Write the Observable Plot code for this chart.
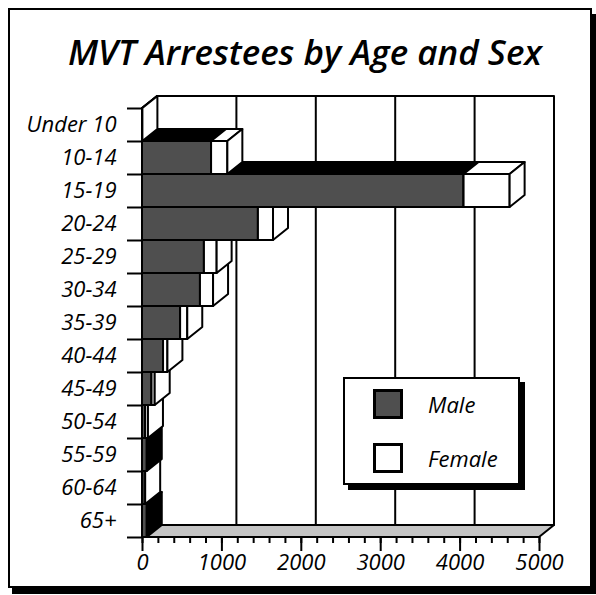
<!DOCTYPE html>
<html>
<head>
<meta charset="utf-8">
<script src="https://cdn.jsdelivr.net/npm/d3@7"></script>
<script src="https://cdn.jsdelivr.net/npm/@observablehq/plot@0.6"></script>
<style>
  body { margin: 0; background: #fff; }
  #wrap { position: relative; width: 596px; height: 595px; overflow: hidden; font-family: "Open Sans", sans-serif; }
  #frame { position: absolute; left: 8px; top: 8px; width: 580px; height: 576px; border: 2px solid #000; box-shadow: 4px 6px 0 #000; }
  #chart { position: absolute; left: 0; top: 0; }
  #title { position: absolute; left: 0; width: 610px; top: 34px; text-align: center; font-style: italic; font-weight: 600; font-size: 35px; line-height: 36px; color: #000; white-space: nowrap; }
  #legend { position: absolute; left: 343px; top: 377px; width: 177px; height: 108px; box-sizing: border-box; border: 2px solid #000; background: #fff; box-shadow: 5px 5px 0 #000; }
  .sw { position: absolute; left: 28px; width: 30px; height: 30px; box-sizing: border-box; border: 3px solid #000; }
  .lt { position: absolute; left: 83px; font-style: italic; font-size: 22px; line-height: 22px; }
</style>
</head>
<body>
<div id="wrap">
  <div id="frame"></div>
  <div id="chart"></div>
  <div id="title"></div>
  <div id="legend"></div>
</div>
<script>
const titleText = "MVT Arrestees by Age and Sex";
const categories = ["Under 10","10-14","15-19","20-24","25-29","30-34","35-39","40-44","45-49","50-54","55-59","60-64","65+"];
const male   = [0, 870, 4050, 1460, 780, 730, 480, 265, 120, 40, 60, 10, 60];
const female = [5, 205, 580, 190, 160, 165, 90, 55, 40, 35, 0, 30, 0];
const seriesNames = ["Male", "Female"];
const xMajor = [0, 1000, 2000, 3000, 4000, 5000];
const xMinor = d3.range(0, 5001, 200);

const colors = {
  Male:   {front: "#4f4f4f", top: "#000", side: "#000"},
  Female: {front: "#fff", top: "#fff", side: "#fff"}
};
const DX = 15, DY = -12;

const rows = categories.map((c, i) => ({category: c, Male: male[i], Female: female[i]}));

function scene(index, scales, values, dims) {
  const X = scales.x, Y = scales.y;
  const bw = Y.bandwidth ? Y.bandwidth() : (dims.height - dims.marginTop - dims.marginBottom) / categories.length;
  const g = d3.create("svg:g").attr("stroke", "#000").attr("stroke-width", 2).attr("stroke-linejoin", "round");
  const x0 = X(xMajor[0]), x5 = X(xMajor[xMajor.length - 1]);
  const yT = Y(categories[0]), yB = Y(categories[categories.length - 1]) + bw;
  const poly = (pts, fill) => g.append("polygon").attr("points", pts.map(p => p.join(",")).join(" ")).attr("fill", fill);
  poly([[x0 + DX, yT + DY], [x5 + DX, yT + DY], [x5 + DX, yB + DY], [x0 + DX, yB + DY]], "#fff");
  for (const t of xMajor.slice(1, -1)) {
    g.append("line").attr("x1", X(t) + DX).attr("x2", X(t) + DX).attr("y1", yT + DY).attr("y2", yB + DY);
  }
  poly([[x0, yT], [x0 + DX, yT + DY], [x0 + DX, yB + DY], [x0, yB]], "#fff");
  poly([[x0, yB], [x5, yB], [x5 + DX, yB + DY], [x0 + DX, yB + DY]], "#c4c4c4");
  for (let i = rows.length - 1; i >= 0; i--) {
    const r = rows[i];
    const top = Y(r.category), bot = top + bw;
    let acc = 0;
    for (const s of seriesNames) {
      const v = r[s];
      if (!(v > 0)) continue;
      const a = X(acc), b = X(acc + v);
      acc += v;
      const c = colors[s];
      poly([[a, top], [b, top], [b, bot], [a, bot]], c.front);
      poly([[a, top], [a + DX, top + DY], [b + DX, top + DY], [b, top]], c.top);
      poly([[b, top], [b + DX, top + DY], [b + DX, bot + DY], [b, bot]], c.side);
    }
  }
  return g.node();
}

const bw0 = (537 - 108) / categories.length;
const fontOpts = {fontSize: 22, fontStyle: "italic", fontFamily: "Open Sans"};

const plot = Plot.plot({
  width: 596,
  height: 595,
  marginLeft: 142,
  marginRight: 57,
  marginTop: 108,
  marginBottom: 58,
  style: {background: "transparent", color: "#000", fontFamily: "Open Sans"},
  x: {domain: [0, 5000]},
  y: {type: "band", domain: categories, padding: 0},
  marks: [
    scene,
    Plot.axisX({ticks: xMinor, tickSize: 6, tickFormat: () => "", strokeWidth: 2, label: null}),
    Plot.axisX({ticks: xMajor, tickSize: 14, tickPadding: 3, tickFormat: d => String(d), strokeWidth: 2, label: null, ...fontOpts}),
    Plot.axisY({tickSize: 15, tickFormat: () => "", strokeWidth: 2, dy: bw0 / 2, label: null}),
    Plot.axisY({ticks: [categories[0]], tickSize: 15, tickFormat: () => "", strokeWidth: 2, dy: -bw0 / 2, label: null}),
    Plot.axisY({tickSize: 0, tickPadding: 26, label: null, ...fontOpts}),
    Plot.ruleX([0], {y1: categories[0], y2: categories[categories.length - 1], strokeWidth: 2, insetTop: -bw0 / 2, insetBottom: -bw0 / 2})
  ]
});
document.getElementById("chart").appendChild(plot);
document.getElementById("title").textContent = titleText;

const legend = document.getElementById("legend");
seriesNames.forEach((s, i) => {
  const sw = document.createElement("div");
  sw.className = "sw";
  sw.style.top = (10 + i * 54) + "px";
  sw.style.background = colors[s].front;
  legend.appendChild(sw);
  const t = document.createElement("div");
  t.className = "lt";
  t.style.top = (14 + i * 54) + "px";
  t.textContent = s;
  legend.appendChild(t);
});
</script>
</body>
</html>
